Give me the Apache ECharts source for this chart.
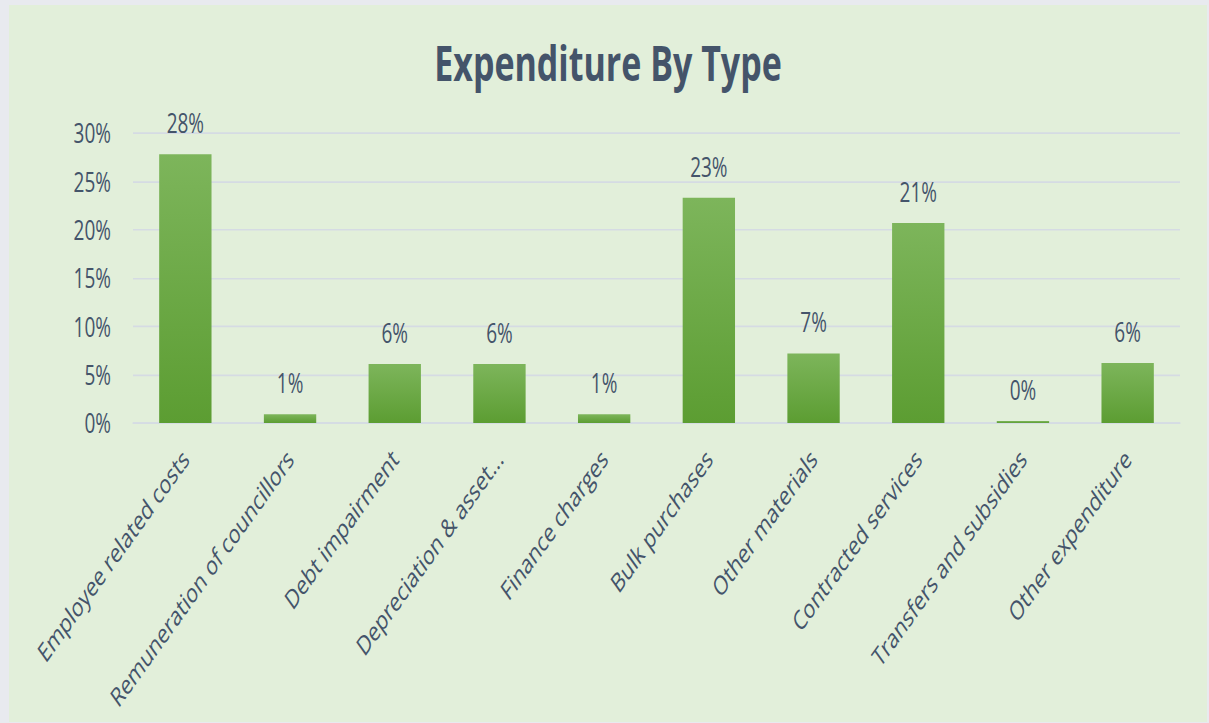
<!DOCTYPE html>
<html>
<head>
<meta charset="utf-8">
<script src="https://cdn.jsdelivr.net/npm/echarts@6/dist/echarts.min.js"></script>
<style>
  html, body { margin: 0; padding: 0; width: 1209px; height: 723px; background: #e8eaef; overflow: hidden; }
  #wrap { position: absolute; left: 9px; top: 5px; width: 1198px; height: 717px; background: #E2EFDA; overflow: hidden; }
  #main { position: absolute; left: 0; top: 0; width: 1198px; height: 512px; transform: scaleY(1.4004); transform-origin: 0 0; }
</style>
</head>
<body>
<div id="wrap"><div id="main"></div></div>
<script>
const titleText = 'Expenditure By Type';
const categories = [
  'Employee related costs',
  'Remuneration of councillors',
  'Debt impairment',
  'Depreciation & asset...',
  'Finance charges',
  'Bulk purchases',
  'Other materials',
  'Contracted services',
  'Transfers and subsidies',
  'Other expenditure'
];
const shares = [27.8, 0.9, 6.1, 6.1, 0.9, 23.3, 7.2, 20.7, 0.2, 6.2];
const yTicks = { min: 0, max: 30, step: 5 };

const textColor = '#44546A';
const fontFam = '"Open Sans", "Noto Sans", sans-serif';

const chart = echarts.init(document.getElementById('main'), null, { renderer: 'svg' });
chart.setOption({
  backgroundColor: 'transparent',
  animation: false,
  title: {
    text: titleText,
    left: 'center',
    top: 19,
    textStyle: { fontFamily: fontFam, fontWeight: 'bold', fontSize: 34, color: textColor }
  },
  grid: { left: 124, right: 27, top: 91.4, bottom: 213.5, containLabel: false },
  xAxis: {
    type: 'category',
    data: categories,
    axisLine: { show: true, lineStyle: { color: '#d5dbe3', width: 1.2 } },
    axisTick: { show: false },
    axisLabel: {
      interval: 0, rotate: 45, margin: 22,
      fontFamily: fontFam, fontSize: 19, color: textColor
    }
  },
  yAxis: {
    type: 'value',
    min: yTicks.min, max: yTicks.max, interval: yTicks.step,
    axisLine: { show: false },
    axisTick: { show: false },
    splitLine: { lineStyle: { color: '#d5dbe3', width: 1.2 } },
    axisLabel: {
      margin: 22,
      fontFamily: fontFam, fontSize: 19, color: textColor,
      formatter: v => v + '%'
    }
  },
  series: [{
    type: 'bar',
    data: shares,
    barWidth: '50%',
    itemStyle: {
      color: new echarts.graphic.LinearGradient(0, 0, 0, 1, [
        { offset: 0, color: '#7db55b' },
        { offset: 1, color: '#5c9d32' }
      ])
    },
    label: {
      show: true, position: 'top', distance: 13,
      fontFamily: fontFam, fontSize: 19, color: textColor,
      formatter: p => Math.round(p.value) + '%'
    }
  }]
});
</script>
</body>
</html>
